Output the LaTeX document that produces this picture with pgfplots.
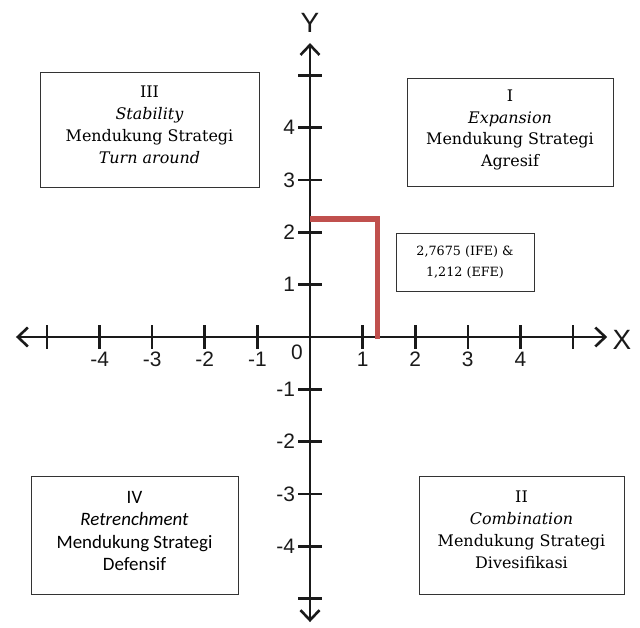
\documentclass[border=0pt]{standalone}
\usepackage{fontspec}
\setmainfont{DejaVu Serif}
\setsansfont{Liberation Sans}
\newfontfamily\calibri{Carlito}
\usepackage{pgfplots}
\pgfplotsset{compat=1.18}
\usetikzlibrary{arrows.meta}
\definecolor{redline}{HTML}{C0504D}
\definecolor{axcol}{HTML}{1A1A1A}
\begin{document}
\begin{tikzpicture}
\path[use as bounding box] (-310bp,-291bp) rectangle (330bp,337bp);
\begin{axis}[
  anchor=origin, at={(0,0)},
  x=52.6bp, y=52.3bp,
  xmin=-5.59, xmax=5.65, ymin=-5.45, ymax=5.62,
  axis lines=middle,
  axis line style={line width=2.6bp, axcol,
    {Straight Barb[length=10bp,width=19bp,line width=2.6bp]}-{Straight Barb[length=10bp,width=19bp,line width=2.6bp]}},
  tick align=center,
  major tick length=23bp,
  tick style={line width=2.6bp, axcol},
  xtick={-5,-4,-3,-2,-1,1,2,3,4,5},
  xticklabels={,-4,-3,-2,-1,1,2,3,4,},
  ytick={-5,-4,-3,-2,-1,1,2,3,4,5},
  yticklabels={,-4,-3,-2,-1,1,2,3,4,},
  xticklabel style={font=\sffamily\fontsize{21}{21}\selectfont, text=axcol},
  yticklabel style={font=\sffamily\fontsize{21}{21}\selectfont, text=axcol},
  clip=false,
]
\addplot[redline, line width=5.5bp, line join=miter] coordinates {(0,2.26) (1.28,2.26) (1.28,-0.03)};
\end{axis}
\node[font=\sffamily\fontsize{21}{21}\selectfont, text=axcol] at (-13bp,-15bp) {0};
\node[font=\sffamily\fontsize{28}{28}\selectfont, text=axcol] at (0bp,314bp) {Y};
\node[font=\sffamily\fontsize{28}{28}\selectfont, text=axcol] at (312bp,-3bp) {X};
% boxes
\tikzset{qbox/.style={draw=black!80, line width=0.9bp, fill=white}}
\node[qbox, minimum width=206bp, minimum height=108bp] at (200bp,205bp) {};
\node[align=center, font=\fontsize{16}{22}\selectfont] at (200bp,207bp) {I\\\textit{Expansion}\\Mendukung Strategi\\Agresif};
\node[qbox, minimum width=219bp, minimum height=115bp] at (-160.5bp,207.5bp) {};
\node[align=center, font=\fontsize{16}{22}\selectfont] at (-160.5bp,212bp) {III\\\textit{Stability}\\Mendukung Strategi\\\textit{Turn around}};
\node[qbox, minimum width=207bp, minimum height=118bp] at (-175.5bp,-198bp) {};
\node[align=center, font=\calibri\fontsize{19}{22.5}\selectfont] at (-175.5bp,-194bp) {IV\\\textit{Retrenchment}\\Mendukung Strategi\\Defensif};
\node[qbox, minimum width=205bp, minimum height=118bp] at (211.5bp,-198bp) {};
\node[align=center, font=\fontsize{16}{22}\selectfont] at (211.5bp,-193bp) {II\\\textit{Combination}\\Mendukung Strategi\\Divesifikasi};
\node[qbox, minimum width=138bp, minimum height=58bp] at (155bp,75bp) {};
\node[align=center, font=\fontsize{12.8}{21}\selectfont] at (155bp,75bp) {2,7675 (IFE) \&\\1,212 (EFE)};
\end{tikzpicture}
\end{document}
